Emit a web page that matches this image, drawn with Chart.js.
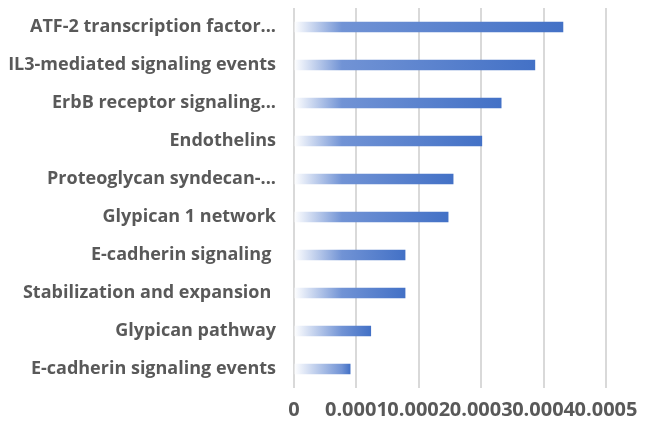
<!DOCTYPE html>
<html>
<head>
<meta charset="utf-8">
<script src="https://cdn.jsdelivr.net/npm/chart.js@4/dist/chart.umd.min.js"></script>
<style>
  html, body { margin: 0; padding: 0; background: #fff; }
  #wrap { width: 651px; height: 429px; }
</style>
</head>
<body>
<div id="wrap"><canvas id="pathwayChart" width="651" height="429"></canvas></div>
<script>
// pathways, top to bottom
const pathways = [
    'ATF-2 transcription factor...',
    'IL3-mediated signaling events',
    'ErbB receptor signaling...',
    'Endothelins',
    'Proteoglycan syndecan-...',
    'Glypican 1 network',
    'E-cadherin signaling ',
    'Stabilization and expansion ',
    'Glypican pathway',
    'E-cadherin signaling events'
];
const pValues = [0.000431, 0.000386, 0.000332, 0.000301, 0.000255, 0.000247, 0.000178, 0.000178, 0.000123, 0.000090];
const xTicks = [0, 0.0001, 0.0002, 0.0003, 0.0004, 0.0005];

const textGray = '#595959';

// white-to-blue fill, computed per bar
function barFill(ctx) {
    const chart = ctx.chart;
    const xs = chart.scales && chart.scales.x;
    if (!chart.chartArea || !xs || ctx.parsed == null) return '#4472C4';
    const x0 = xs.getPixelForValue(0);
    const x1 = xs.getPixelForValue(ctx.parsed.x);
    const w = Math.max(x1 - x0, 1);
    const g = chart.ctx.createLinearGradient(x0, 0, x1, 0);
    const mid = Math.min(0.85, 48 / w);
    g.addColorStop(0, 'rgba(255,255,255,1)');
    g.addColorStop(mid, '#7193d5');
    g.addColorStop(1, '#4371c6');
    return g;
}

const ctx = document.getElementById('pathwayChart').getContext('2d');
new Chart(ctx, {
    type: 'bar',
    data: {
        labels: pathways,
        datasets: [{
            data: pValues,
            backgroundColor: barFill,
            borderWidth: 0,
            barThickness: 10
        }]
    },
    options: {
        indexAxis: 'y',
        responsive: false,
        animation: false,
        layout: { padding: { top: 8, right: 45, left: 0, bottom: 0 } },
        plugins: { legend: { display: false }, tooltip: { enabled: false } },
        scales: {
            x: {
                min: 0,
                max: 0.0005,
                afterBuildTicks: (scale) => { scale.ticks = xTicks.map(v => ({ value: v })); },
                afterFit: (scale) => {
                    scale.height = 41;
                    scale.paddingLeft = 0;
                    scale.paddingRight = 0;
                },
                grid: { color: '#d9d9d9', lineWidth: 2, drawTicks: false },
                border: { display: false },
                ticks: {
                    autoSkip: false,
                    maxRotation: 0,
                    padding: 10,
                    color: textGray,
                    font: { family: 'Open Sans', size: 20, weight: 'bold' },
                    callback: (v) => String(Number(v.toFixed(4)))
                }
            },
            y: {
                afterFit: (scale) => {
                    scale.width = 294;
                    scale.paddingTop = 0;
                    scale.paddingBottom = 0;
                },
                grid: { display: false, drawTicks: false },
                border: { display: false },
                ticks: {
                    padding: 18,
                    color: textGray,
                    font: { family: 'Open Sans', size: 18, weight: 'bold' }
                }
            }
        }
    }
});
</script>
</body>
</html>
